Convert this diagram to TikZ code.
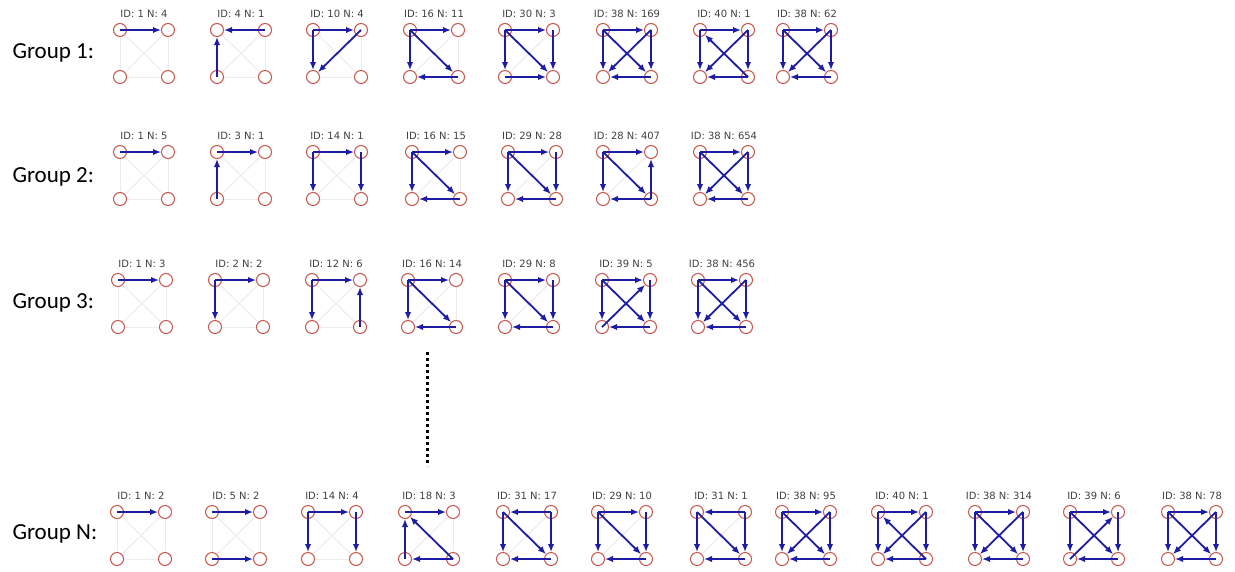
\documentclass[tikz,border=0pt]{standalone}
\usepackage{fontspec}
\setmainfont{Carlito}
\newfontfamily\idfont{DejaVu Sans}
\usetikzlibrary{arrows.meta}

\definecolor{vtxred}{RGB}{200,85,75}
\definecolor{arcblue}{RGB}{28,28,165}
\definecolor{faintgray}{RGB}{240,234,234}

\tikzset{
  vtx/.style={circle, draw=vtxred, fill=white, line width=1pt, minimum size=13pt, inner sep=0pt},
  arcline/.style={draw=arcblue, line width=1.8pt, -{Latex[length=8pt,width=6.5pt]}},
  faint/.style={draw=faintgray, line width=1pt},
  idlabel/.style={font=\idfont\fontsize{10}{12}\selectfont, text=black!75},
  grouplabel/.style={font=\fontsize{23}{27}\selectfont, anchor=base west},
}

% #1 name, #2 left x, #3 top y, #4 label, #5 arcs (a b / c d)
\newcommand{\motif}[5]{%
  \node[idlabel] (#1-id) at (#2+24,#3-16) {#4};
  \node[vtx] (#1-a) at (#2,#3) {};
  \node[vtx] (#1-b) at (#2+48,#3) {};
  \node[vtx] (#1-c) at (#2,#3+47) {};
  \node[vtx] (#1-d) at (#2+48,#3+47) {};
  \foreach \u/\v in {a/b,a/c,a/d,b/c,b/d,c/d}
    \draw[faint] (#1-\u) -- (#1-\v);
  \foreach \u/\v in {#5}
    \draw[arcline] (#1-\u.center) -- (#1-\v);
}

\begin{document}
\begin{tikzpicture}[x=1pt, y=-1pt]
  \useasboundingbox (0,0) rectangle (1235,571);

  \node[grouplabel] (g1) at (9,58) {Group 1:};
  \node[grouplabel] (g2) at (9,182) {Group 2:};
  \node[grouplabel] (g3) at (9,308) {Group 3:};
  \node[grouplabel] (gN) at (9,539) {Group N:};

  % group 1
  \motif{g1m1}{120}{30}{ID: 1 N: 4}{a/b}
  \motif{g1m2}{217}{30}{ID: 4 N: 1}{b/a,c/a}
  \motif{g1m3}{313}{30}{ID: 10 N: 4}{a/b,a/c,b/c}
  \motif{g1m4}{410}{30}{ID: 16 N: 11}{a/b,a/c,a/d,d/c}
  \motif{g1m5}{505}{30}{ID: 30 N: 3}{a/b,a/c,a/d,b/d,c/d}
  \motif{g1m6}{603}{30}{ID: 38 N: 169}{a/b,a/c,a/d,b/c,b/d,d/c}
  \motif{g1m7}{700}{30}{ID: 40 N: 1}{a/b,a/c,d/a,b/c,b/d,d/c}
  \motif{g1m8}{783}{30}{ID: 38 N: 62}{a/b,a/c,a/d,b/c,b/d,d/c}

  % group 2
  \motif{g2m1}{120}{152}{ID: 1 N: 5}{a/b}
  \motif{g2m2}{217}{152}{ID: 3 N: 1}{c/a,a/b}
  \motif{g2m3}{313}{152}{ID: 14 N: 1}{a/b,a/c,b/d}
  \motif{g2m4}{412}{152}{ID: 16 N: 15}{a/b,a/c,a/d,d/c}
  \motif{g2m5}{508}{152}{ID: 29 N: 28}{a/b,a/c,a/d,b/d,d/c}
  \motif{g2m6}{603}{152}{ID: 28 N: 407}{a/b,a/c,a/d,d/b,d/c}
  \motif{g2m7}{700}{152}{ID: 38 N: 654}{a/b,a/c,a/d,b/c,b/d,d/c}

  % group 3
  \motif{g3m1}{118}{280}{ID: 1 N: 3}{a/b}
  \motif{g3m2}{215}{280}{ID: 2 N: 2}{a/b,a/c}
  \motif{g3m3}{312}{280}{ID: 12 N: 6}{a/b,a/c,d/b}
  \motif{g3m4}{408}{280}{ID: 16 N: 14}{a/b,a/c,a/d,d/c}
  \motif{g3m5}{505}{280}{ID: 29 N: 8}{a/b,a/c,a/d,b/d,d/c}
  \motif{g3m6}{602}{280}{ID: 39 N: 5}{a/b,a/c,a/d,c/b,b/d,d/c}
  \motif{g3m7}{698}{280}{ID: 38 N: 456}{a/b,a/c,a/d,b/c,b/d,d/c}

  % vertical dots
  \coordinate (dots-top) at (427,352);
  \coordinate (dots-bot) at (427,466);
  \draw[line width=3pt, dash pattern=on 3pt off 3pt] (dots-top) -- (dots-bot);

  % group N
  \motif{gNm1}{117}{512}{ID: 1 N: 2}{a/b}
  \motif{gNm2}{212}{512}{ID: 5 N: 2}{a/b,c/d}
  \motif{gNm3}{308}{512}{ID: 14 N: 4}{a/b,a/c,b/d}
  \motif{gNm4}{405}{512}{ID: 18 N: 3}{a/b,c/a,d/a,d/c}
  \motif{gNm5}{503}{512}{ID: 31 N: 17}{b/a,a/c,a/d,b/d,d/c}
  \motif{gNm6}{598}{512}{ID: 29 N: 10}{a/b,a/c,a/d,b/d,d/c}
  \motif{gNm7}{697}{512}{ID: 31 N: 1}{b/a,a/c,a/d,b/d,d/c}
  \motif{gNm8}{782}{512}{ID: 38 N: 95}{a/b,a/c,a/d,b/c,b/d,d/c}
  \motif{gNm9}{878}{512}{ID: 40 N: 1}{a/b,a/c,d/a,b/c,b/d,d/c}
  \motif{gNm10}{975}{512}{ID: 38 N: 314}{a/b,a/c,a/d,b/c,b/d,d/c}
  \motif{gNm11}{1070}{512}{ID: 39 N: 6}{a/b,a/c,a/d,c/b,b/d,d/c}
  \motif{gNm12}{1168}{512}{ID: 38 N: 78}{a/b,a/c,a/d,b/c,b/d,d/c}
\end{tikzpicture}
\end{document}
